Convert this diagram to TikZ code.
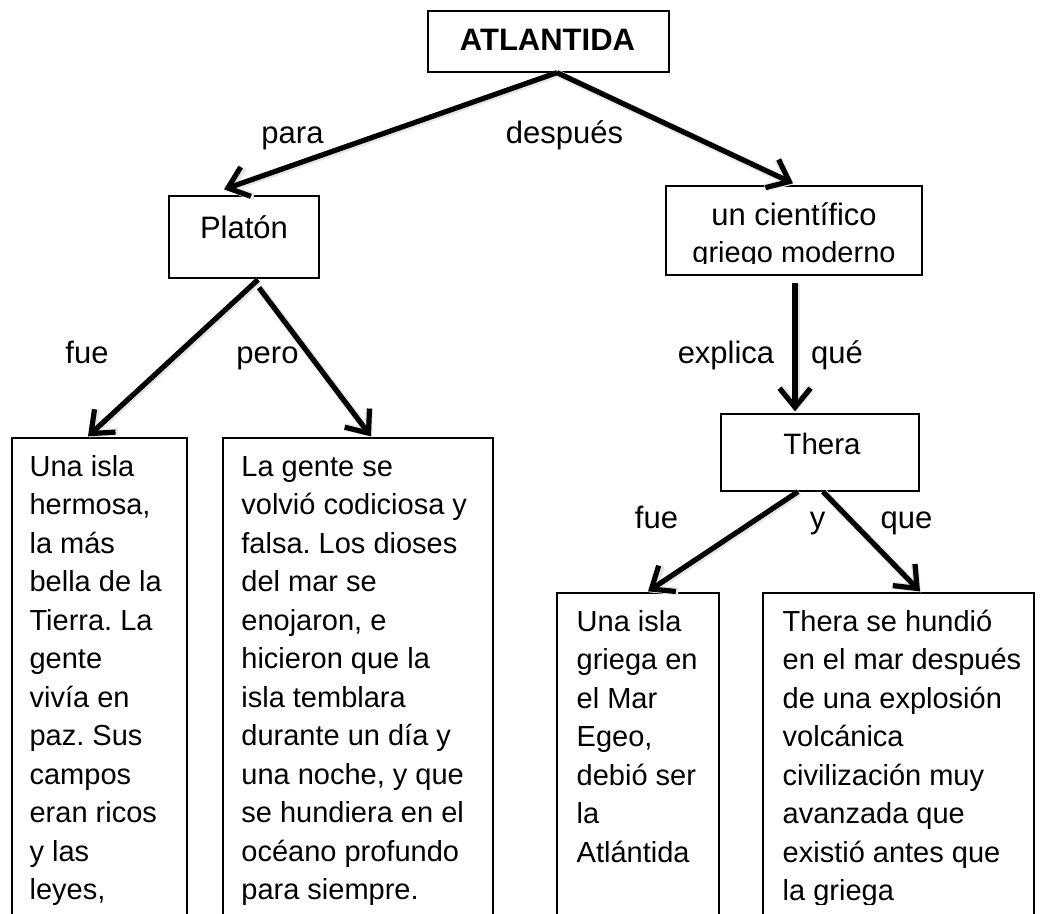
\documentclass[tikz,border=0pt]{standalone}
\usepackage{fontspec}
\setmainfont{Liberation Sans}
\usetikzlibrary{arrows.meta}
\newcommand\lblfont{\fontsize{31}{37}\selectfont}
\newcommand\txtfont{\fontsize{29}{38.5}\selectfont}
\begin{document}
\frenchspacing
\begin{tikzpicture}[x=1pt,y=-1pt,
  box/.style={draw, line width=1.3pt, inner sep=0pt, rectangle},
  arr/.style={line width=5.2pt, -{Straight Barb[length=19pt,width=31pt]},
    preaction={draw=black!10, line width=7.5pt, -{Straight Barb[length=19pt,width=31pt]},
      transform canvas={shift={(1pt,-1pt)}}}},
  lbl/.style={font=\lblfont, inner sep=0pt, anchor=base},
  txt/.style={font=\txtfont\frenchspacing, inner sep=0pt, anchor=north west, align=left}]

\useasboundingbox (0,0) rectangle (1044,913);

% boxes
\node[box, minimum width=241pt, minimum height=61pt] (atl) at (548.5,41.5) {};
\node[box, minimum width=150pt, minimum height=82pt] (platon) at (244,237) {};
\node[box, minimum width=256pt, minimum height=89pt] (cient) at (794,230.5) {};
\node[box, minimum width=198pt, minimum height=77pt] (thera) at (820,452.5) {};
\node[box, minimum width=175pt, minimum height=502pt] (b1) at (99.5,689) {};
\node[box, minimum width=270pt, minimum height=502pt] (b2) at (358,689) {};
\node[box, minimum width=162pt, minimum height=347pt] (b3) at (638,766.5) {};
\node[box, minimum width=271pt, minimum height=347pt] (b4) at (898.5,766.5) {};

% box texts
\node[lbl, font=\lblfont\bfseries] (atlT) at (547.5,50) {ATLANTIDA};
\node[lbl] (platonT) at (244,238) {Platón};
\begin{scope}
  \clip (666,186) rectangle (922,263.5);
  \node[lbl] (cientA) at (794,225) {un científico};
  \node[lbl, font=\txtfont] (cientB) at (794,262) {griego moderno};
\end{scope}
\node[lbl, font=\fontsize{29.5}{36}\selectfont] (theraT) at (822,454) {Thera};

\begin{scope}
  \clip (0,0) rectangle (1044,904);
  \node[txt] (b1T) at (29.4,449.05) {\strut Una isla\\hermosa,\\la más\\bella de la\\Tierra. La\\gente\\vivía en\\paz. Sus\\campos\\eran ricos\\y las\\leyes,};
  \node[txt] (b2T) at (241.2,449.05) {\strut La gente se\\volvió codiciosa y\\falsa. Los dioses\\del mar se\\enojaron, e\\hicieron que la\\isla temblara\\durante un día y\\una noche, y que\\se hundiera en el\\océano profundo\\para siempre.};
  \node[txt] (b3T) at (576.5,604.05) {\strut Una isla\\griega en\\el Mar\\Egeo,\\debió ser\\la\\Atlántida};
  \node[txt] (b4T) at (782.5,604.05) {\strut Thera se hundió\\en el mar después\\de una explosión\\volcánica\\civilización muy\\avanzada que\\existió antes que\\la griega};
\end{scope}

% connector labels
\node[lbl] (lPara) at (292.5,143) {para};
\node[lbl] (lDesp) at (564.5,143) {después};
\node[lbl] (lFue1) at (87,363) {fue};
\node[lbl] (lPero) at (267.5,363) {pero};
\node[lbl] (lExp) at (726,363) {explica};
\node[lbl] (lQue1) at (837,363) {qué};
\node[lbl] (lFue2) at (656.5,528) {fue};
\node[lbl] (lY) at (817.5,528) {y};
\node[lbl] (lQue2) at (906.5,528) {que};

% arrows
\draw[arr] ([xshift=8.5pt]atl.south) -- ([xshift=-20pt,yshift=6pt]platon.north);
\draw[arr] ([xshift=8.5pt]atl.south) -- ([xshift=-1pt,yshift=2pt]cient.north);
\draw[arr] ([xshift=14pt,yshift=-1pt]platon.south) -- ([xshift=-11.5pt,yshift=1pt]b1.north);
\draw[arr] ([xshift=15pt,yshift=-9pt]platon.south) -- ([xshift=13pt,yshift=1pt]b2.north);
\draw[arr] ([xshift=1pt,yshift=-7pt]cient.south) -- ([xshift=-25pt,yshift=2pt]thera.north);
\draw[arr] ([xshift=-22pt]thera.south) -- ([xshift=10pt,yshift=1pt]b3.north);
\draw[arr] ([xshift=3pt]thera.south) -- ([xshift=21.5pt,yshift=1pt]b4.north);
\end{tikzpicture}
\end{document}
